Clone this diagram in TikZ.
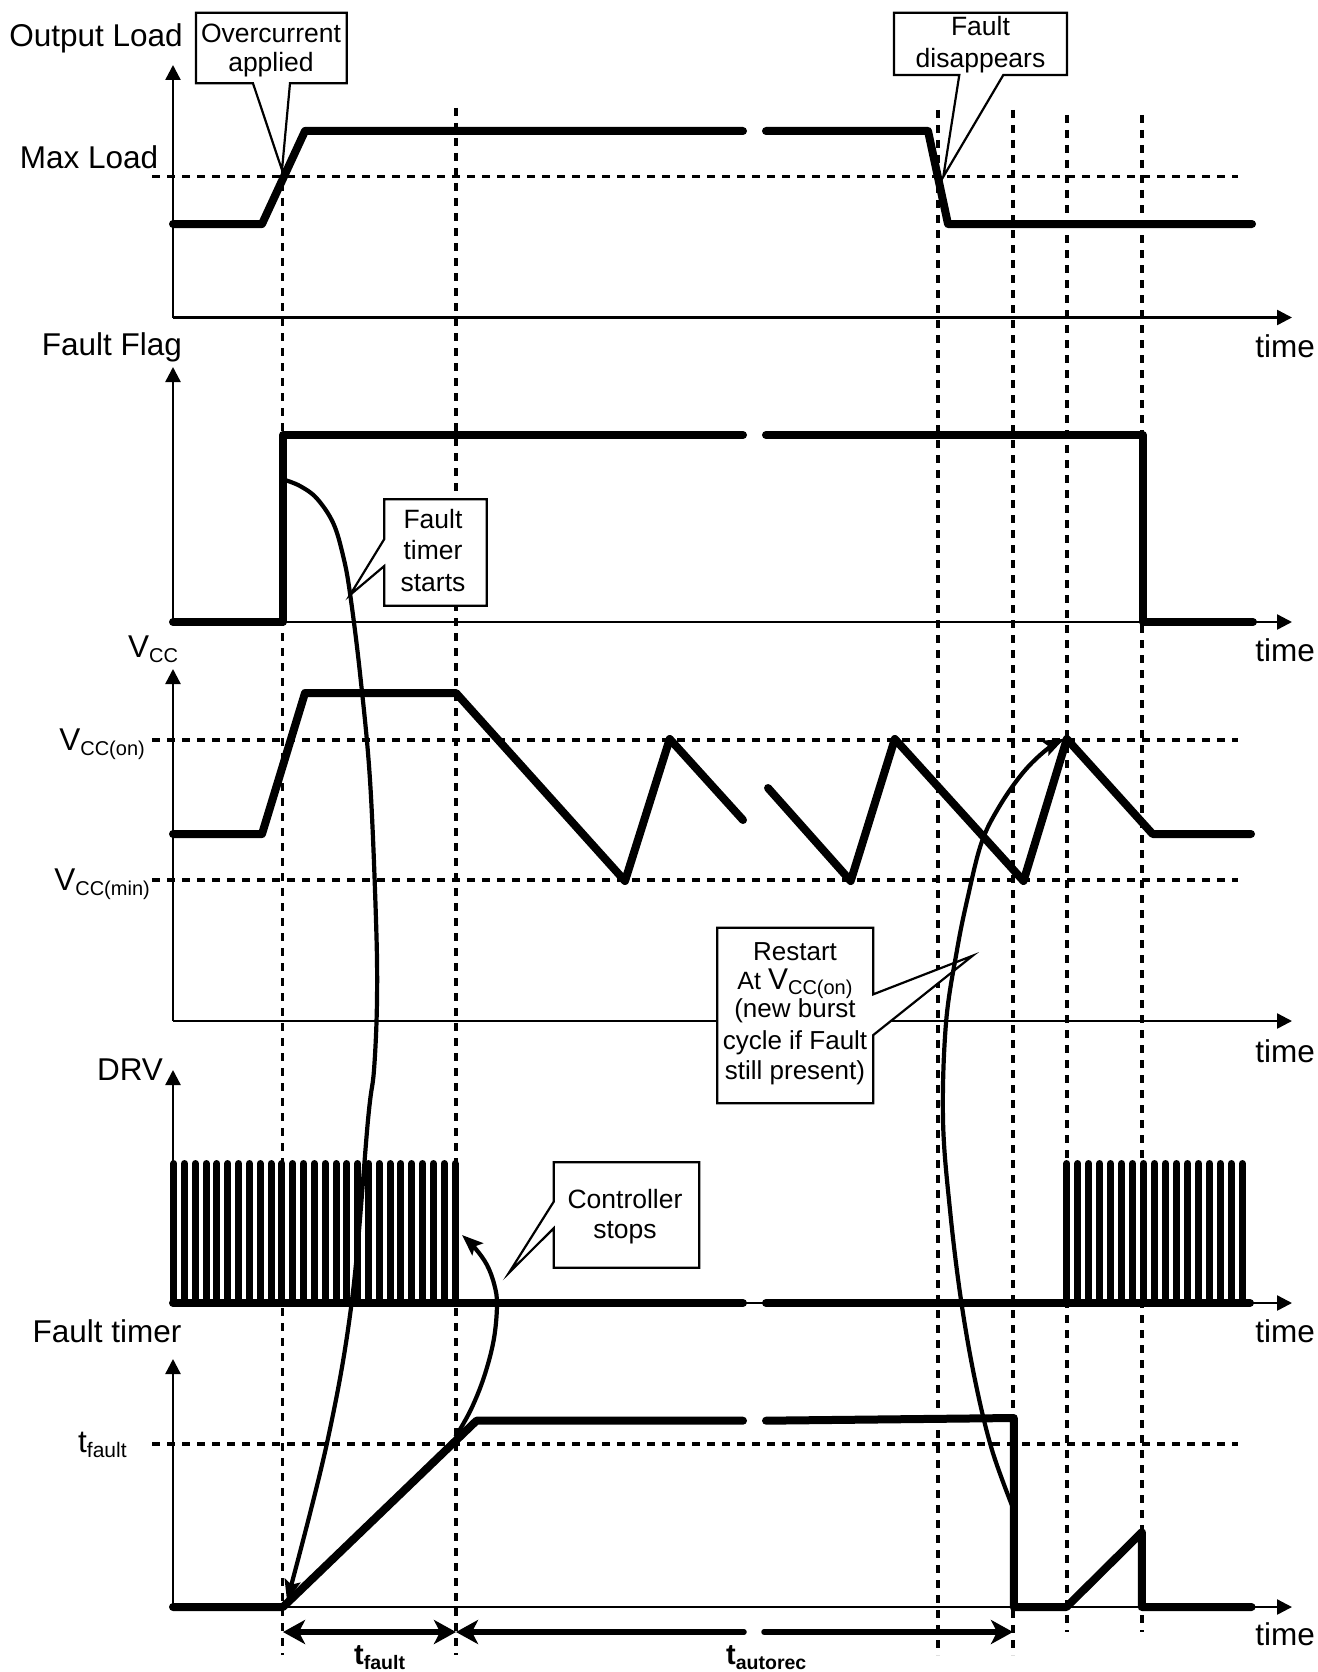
\documentclass[tikz,border=0pt]{standalone}
\usepackage{fontspec}
\setmainfont{Liberation Sans}
\usetikzlibrary{arrows.meta}
\newcommand{\VccSub}[1]{V\raisebox{-5pt}{\fontsize{20}{20}\selectfont #1}}
\begin{document}
\begin{tikzpicture}[x=1pt,y=-1pt,
  sig/.style={line width=8pt,line cap=round,line join=round},
  pulse/.style={line width=7pt,line cap=round},
  ax/.style={line width=2.4pt,-{Triangle[length=15pt,width=15pt]}},
  gridln/.style={line width=3.2pt,dash pattern=on 8pt off 7pt},
  lab/.style={font=\fontsize{31.5}{36}\selectfont,inner sep=0pt},
  boxtxt/.style={align=center,inner sep=0pt},
  callout/.style={draw,line width=2.2pt,fill=white,line join=miter},
  curv/.style={line width=4.2pt,-{Stealth[length=21pt,width=16pt,inset=4pt]}},
  dimarr/.style={line width=5.5pt,line cap=round},
]
\useasboundingbox (0,0) rectangle (1317,1672);

% dashed guide lines
\foreach \xx/\ya/\yb in {282.7/108/1655, 456/108/1655, 938/110/1655, 1013/110/1655, 1067/115/1632, 1142/115/1632}
  \draw[gridln] (\xx,\ya) -- (\xx,\yb);
\foreach \yy in {176.7,740,880,1444}
  \draw[gridln] (152,\yy) -- (1238,\yy);

% axes
\foreach \yo/\yt in {317.5/65, 622/367, 1021/669, 1303/1070, 1607/1359} {
  \draw[ax] (173,\yo) -- (173,\yt);
  \draw[ax] (173,\yo) -- (1292,\yo);
}

% axis labels
\node[lab,anchor=base] (lOut) at (96,46.7) {Output Load};
\node[lab,anchor=base] (lMax) at (89,168.3) {Max Load};
\node[lab,anchor=base] (lFlag) at (112,355) {Fault Flag};
\node[lab,anchor=base west] (lVcc) at (128,657) {\VccSub{CC}};
\node[lab,anchor=base east] (lVon) at (145,750) {\VccSub{CC(on)}};
\node[lab,anchor=base east] (lVmin) at (150,890) {\VccSub{CC(min)}};
\node[lab,anchor=base] (lDrv) at (130,1080) {DRV};
\node[lab,anchor=base] (lTim) at (107,1342) {Fault timer};
\node[lab,anchor=base west] (lTf) at (78,1452) {t\raisebox{-5pt}{\fontsize{21}{21}\selectfont fault}};
\foreach \yy/\nm in {357/tm1,661/tm2,1062/tm3,1342/tm4,1645/tm5}
  \node[lab,anchor=base] (\nm) at (1285,\yy) {time};

% callouts
\draw[callout] (196,12.7) -- (346.7,12.7) -- (346.7,83.3) -- (290,83.3) -- (282,170) -- (253,83.3) -- (196,83.3) -- cycle;
\node[boxtxt,font=\fontsize{26.5}{28.4}\selectfont] (cOver) at (271,50.7) {Overcurrent\\applied};
\draw[callout] (894,12.7) -- (1067,12.7) -- (1067,75) -- (1003.3,75) -- (943.3,176.7) -- (959.3,75) -- (894,75) -- cycle;
\node[boxtxt,font=\fontsize{26.5}{31.7}\selectfont] (cDis) at (980.5,45) {Fault\\disappears};
\draw[callout] (384.3,499.3) -- (486.7,499.3) -- (486.7,605.7) -- (384.3,605.7) -- (384.3,566) -- (350,595) -- (384.3,539) -- cycle;
\node[boxtxt,font=\fontsize{26.5}{31.7}\selectfont] (cTs) at (433,550.3) {Fault\\timer\\starts};
\draw[callout] (553.7,1162.3) -- (699.2,1162.3) -- (699.2,1267.7) -- (553.7,1267.7) -- (553.7,1228.3) -- (509,1272.7) -- (553.7,1201.7) -- cycle;
\node[boxtxt,font=\fontsize{26.5}{30}\selectfont] (cCs) at (625,1216.5) {Controller\\stops};
\draw[callout] (717.3,927.7) -- (873.3,927.7) -- (873.3,994.3) -- (972.7,955.7) -- (873.3,1035) -- (873.3,1103.3) -- (717.3,1103.3) -- cycle;
\node[boxtxt,font=\fontsize{26}{26.7}\selectfont] (cRs) at (795,1014)
  {Restart\\[2.5pt]\relax{\fontsize{25}{26.7}\selectfont At }{\fontsize{30}{26.7}\selectfont V}\smash{\raisebox{-5pt}{\fontsize{20}{20}\selectfont CC(on)}}\\[1pt](new burst\\[5pt]cycle if Fault\\[4pt]still present)};

% Output load
\draw[sig] (173,224) -- (262,224) -- (305,131) -- (743,131);
\draw[sig] (766,131) -- (928,131) -- (948,224) -- (1252,224);
% Fault flag
\draw[sig] (173,622) -- (283,622) -- (283,435) -- (743,435);
\draw[sig] (766,435) -- (1143,435) -- (1143,622) -- (1253,622);
% VCC
\draw[sig] (173,834) -- (262,834) -- (305,693) -- (456,693) -- (625,881) -- (669.7,739) -- (743,820);
\draw[sig] (768,788) -- (850.7,881) -- (894.8,739) -- (1023.5,881) -- (1066.8,739) -- (1152.6,834) -- (1251,834);
% DRV
\draw[sig] (173,1303) -- (743,1303);
\draw[sig] (766,1303) -- (1250,1303);
\foreach \i in {0,...,26}
  \draw[pulse] ({173.7+10.82*\i},1303) -- ({173.7+10.82*\i},1163.5);
\foreach \i in {0,...,16}
  \draw[pulse] ({1066.7+10.98*\i},1303) -- ({1066.7+10.98*\i},1163.5);
% Fault timer
\draw[sig] (173,1607) -- (283,1607) -- (476.5,1420.7) -- (743,1420.7);
\draw[sig] (766,1420.7) -- (1013.8,1418) -- (1013.8,1607) -- (1066.4,1607) -- (1141.8,1532.3) -- (1141.8,1607) -- (1251.6,1607);

% dimension arrows
\coordinate (d0) at (283,1632);
\coordinate (d1) at (456,1632);
\coordinate (d2) at (1013,1632);
\coordinate (g1) at (744,1632);
\coordinate (g2) at (764,1632);
\draw[dimarr,{Stealth[length=22pt,width=24pt,inset=6pt]}-{Stealth[length=22pt,width=24pt,inset=6pt]}] (d0) -- (d1);
\draw[dimarr,{Stealth[length=22pt,width=24pt,inset=6pt]}-] (d1) -- (g1);
\draw[dimarr,-{Stealth[length=22pt,width=24pt,inset=6pt]}] (g2) -- (d2);
\node[anchor=base west,inner sep=0pt,font=\bfseries\fontsize{29}{29}\selectfont] (ltf) at (354,1664) {t\raisebox{-5pt}{\fontsize{19.5}{19.5}\selectfont\bfseries fault}};
\node[anchor=base west,inner sep=0pt,font=\bfseries\fontsize{29}{29}\selectfont] (lta) at (726,1664) {t\raisebox{-5pt}{\fontsize{19.5}{19.5}\selectfont\bfseries autorec}};

% curved arrows
\draw[curv] plot[smooth,tension=0.6] coordinates {(285,480) (300,486) (316.7,498.3) (333.3,523.3) (343.3,556.7) (350,593.3) (360,673.3) (370,780) (376,920) (377,1000) (374,1070) (368,1120) (352,1300) (327,1443) (287,1601)};
\draw[curv] plot[smooth,tension=0.6] coordinates {(455.4,1437) (470.7,1410) (484,1377) (493.7,1340) (497,1305) (494.4,1285) (487,1265) (475,1248) (462,1235)};
\draw[curv] plot[smooth,tension=0.6] coordinates {(1013.8,1510) (992,1450) (975,1380) (961,1300) (950,1210) (943,1120) (946,1023) (957,950) (967.6,898) (981.4,843) (999,807) (1022.7,773) (1046,750) (1064,739)};
\end{tikzpicture}
\end{document}
